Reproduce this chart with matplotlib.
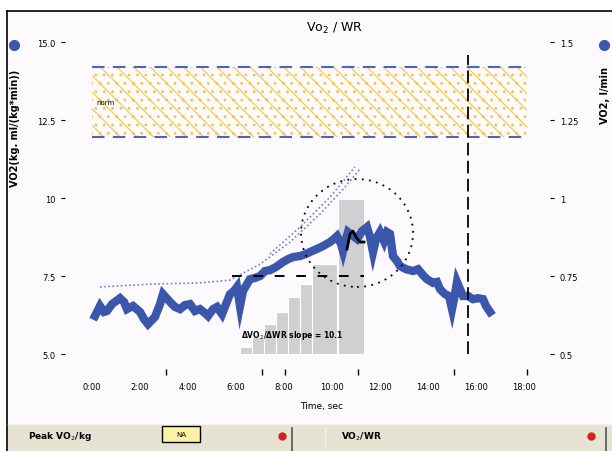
import matplotlib
matplotlib.use("Agg")
import matplotlib.pyplot as plt
from matplotlib.patches import Rectangle, Ellipse
from matplotlib.lines import Line2D

# ────────────────────────────────
# Data
# ────────────────────────────────
# VO2 trace (time in s, VO2 in ml/kg/min)
t_vo2 = [7.5, 20, 30, 37.5, 50, 70, 80, 87.5, 102.5, 120, 130, 140, 157.5, 170, 177.5,
         195, 207.5, 220, 232.5, 245, 257.5, 270, 282.5, 290, 302.5, 312.5, 325, 335,
         345, 355, 362.5, 370, 377.5, 387.5, 395, 407.5, 420, 432.5, 445, 460, 477.5,
         490, 502.5, 520, 535, 550, 562.5, 577.5, 595, 605, 612.5, 622.5, 627.5, 635,
         640, 650, 662.5, 675, 687.5, 695, 702.5, 710, 720, 730, 737.5, 745, 752.5,
         762.5, 770, 785, 802.5, 815, 827.5, 837.5, 852.5, 862.5, 870, 882.5, 892.5,
         900, 907.5, 912.5, 920, 927.5, 940, 952.5, 965, 977.5, 985, 995]
vo2 = [6.22, 6.54, 6.35, 6.38, 6.60, 6.79, 6.67, 6.44, 6.54, 6.35, 6.12, 5.96, 6.19, 6.60,
       6.92, 6.67, 6.51, 6.44, 6.57, 6.60, 6.38, 6.44, 6.31, 6.22, 6.44, 6.51, 6.28, 6.60,
       6.92, 7.02, 7.15, 6.54, 7.02, 7.24, 7.40, 7.44, 7.50, 7.66, 7.69, 7.79, 7.95, 8.04,
       8.11, 8.14, 8.21, 8.30, 8.37, 8.46, 8.59, 8.69, 8.78, 8.53, 8.30, 8.69, 8.91, 8.81,
       8.69, 8.94, 9.07, 8.75, 8.27, 8.69, 8.91, 8.62, 8.91, 8.85, 8.14, 7.98, 7.82, 7.72,
       7.66, 7.72, 7.53, 7.40, 7.28, 7.31, 7.08, 6.92, 6.86, 6.44, 6.92, 7.31, 7.08, 6.86,
       6.86, 6.76, 6.79, 6.76, 6.54, 6.35]

# VO2 vs work-rate fit lines
t_fit_lo = [20, 145, 270, 345, 420, 495, 570, 632.5, 670]
vo2_fit_lo = [7.15, 7.24, 7.28, 7.37, 7.88, 8.59, 9.49, 10.35, 10.93]
t_fit_hi = [445, 520, 595, 657.5]
vo2_fit_hi = [8.21, 9.07, 10.03, 11.0]

# peak segment
t_peak = [637.5, 645, 652.5, 660, 670, 680]
vo2_peak = [8.37, 8.85, 8.94, 8.75, 8.59, 8.59]

# work-rate steps (W)
wr_left = [370, 400, 430, 460, 490, 520, 550, 615]
wr_width = [30, 30, 30, 30, 30, 30, 62, 65]
wr_watts = [15, 35, 60, 85, 115, 140, 180, 310]

# normal range band
norm_t = [0, 1087]
norm_lo, norm_hi = 11.96, 14.2

threshold_vo2 = 7.5
threshold_t = [350, 680]
peak_center = (662.5, 8.88)
end_time = 940
event_times = [185, 425, 482.5, 665, 905, 1087.5]

x_ticks = [0, 120, 240, 360, 480, 600, 720, 840, 960, 1080]
x_labels = ["0:00", "2:00", "4:00", "6:00", "8:00", "10:00", "12:00", "14:00", "16:00", "18:00"]
left_ticks = [5, 7.5, 10, 12.5, 15]
left_labels = ["5.0", "7.5", "10", "12.5", "15.0"]
right_ticks = [0.5, 0.75, 1, 1.25, 1.5]
right_labels = ["0.5", "0.75", "1", "1.25", "1.5"]

BLUE = "#3b57ad"
W, H = 612, 452


def fx(x):
    return x / W


def fy(y):
    return 1 - y / H


# ────────────────────────────────
# Figure frame
# ────────────────────────────────
fig = plt.figure(figsize=(6.12, 4.52), dpi=100)
fig.patch.set_facecolor("white")
fig.add_artist(Rectangle((fx(7), fy(425)), fx(605), 413 / H, transform=fig.transFigure,
                         facecolor="#fcfafc", edgecolor="none", zorder=0))
fig.add_artist(Line2D([fx(7), 1], [fy(12), fy(12)], color="black", lw=1.2))
fig.add_artist(Line2D([fx(7), fx(7)], [0, fy(12)], color="black", lw=1.2))

rect = [fx(65), fy(370), (550 - 65) / W, (370 - 30) / H]
xlim = (-67.5, 1145)

# work-rate bars sit underneath
wax = fig.add_axes(rect)
wax.bar(wr_left, wr_watts, width=wr_width, align="edge", color="#cfd0d2",
        edgecolor="white", linewidth=0.8)
wax.set_xlim(*xlim)
wax.set_ylim(-30, 650)
wax.axis("off")

ax = fig.add_axes(rect)
ax.patch.set_alpha(0)
ax.set_xlim(*xlim)
ax.set_ylim(4.52, 15.42)
for s in ax.spines.values():
    s.set_visible(False)

plt.rcParams["hatch.linewidth"] = 0.8
ax.fill_between(norm_t, norm_lo, norm_hi, facecolor="none", edgecolor="#f6c43e",
                hatch="\\\\..", linewidth=0, zorder=1)
ax.hlines([norm_lo, norm_hi], norm_t[0], norm_t[1], colors="#4a64c0",
          linestyles=(0, (6, 4)), lw=1.5, zorder=2)
ax.text(12, (norm_lo + norm_hi) / 2, "norm", fontsize=5, va="center", zorder=3)

ax.plot(t_fit_lo, vo2_fit_lo, color="#7080cc", lw=1.2, ls=(0, (1, 1.5)), zorder=3)
ax.plot(t_fit_hi, vo2_fit_hi, color="#7080cc", lw=1.2, ls=(0, (1, 1.5)), zorder=3)

ax.plot(t_vo2, vo2, color=BLUE, lw=6, solid_joinstyle="miter", zorder=4)
ax.plot(t_peak, vo2_peak, color="black", lw=2, zorder=5)

ax.hlines(threshold_vo2, threshold_t[0], threshold_t[1], colors="black",
          linestyles=(0, (5, 6)), lw=1.4, zorder=5)
ax.add_patch(Ellipse(peak_center, 280, 3.46, fill=False, edgecolor="black",
                     ls=(0, (1, 3)), lw=1.3, zorder=5))
ax.vlines(end_time, 5.0, 14.6, colors="black", linestyles=(0, (7, 3)), lw=1.3, zorder=5)

ax.text(372, 5.64, "ΔVO$_2$/ΔWR slope = 10.1", fontsize=5.5, fontweight="bold",
        va="center", zorder=6)

ax.set_xticks(x_ticks)
ax.set_xticklabels(x_labels, fontsize=6)
ax.set_xticks(event_times, minor=True)
ax.tick_params(axis="x", which="major", length=0, pad=9)
ax.tick_params(axis="x", which="minor", length=4, width=1, direction="out")
ax.set_yticks(left_ticks)
ax.set_yticklabels(left_labels, fontsize=6)
ax.tick_params(axis="y", length=3, pad=4)

rax = ax.twinx()
rax.set_ylim(0.452, 1.542)
for s in rax.spines.values():
    s.set_visible(False)
rax.set_yticks(right_ticks)
rax.set_yticklabels(right_labels, fontsize=6)
rax.tick_params(axis="y", length=3, pad=4)

# ────────────────────────────────
# Titles and axis names
# ────────────────────────────────
fig.text(fx(335), fy(28), "Vo$_2$ / WR", ha="center", va="center", fontsize=9)
fig.text(fx(322), fy(407), "Time, sec", ha="center", va="center", fontsize=6.5)
fig.text(fx(15), fy(128), "VO2(kg. ml/(kg*min))", rotation=90, ha="center", va="center",
         fontsize=7, fontweight="bold")
fig.text(fx(605), fy(95), "VO2, l/min", rotation=90, ha="center", va="center",
         fontsize=7, fontweight="bold")
fig.add_artist(Line2D([fx(14)], [fy(46)], marker="o", ms=7, color=BLUE))
fig.add_artist(Line2D([fx(604)], [fy(46)], marker="o", ms=7, color=BLUE))

# ────────────────────────────────
# Status strip
# ────────────────────────────────
fig.add_artist(Rectangle((fx(8), 0), fx(604), 27 / H, transform=fig.transFigure,
                         facecolor="#e6e3d2", edgecolor="none"))
fig.add_artist(Line2D([fx(8), 1], [fy(425), fy(425)], color="#f4f2ea", lw=1))
fig.add_artist(Line2D([fx(292), fx(292)], [0, fy(429)], color="#555555", lw=1.2))
fig.add_artist(Line2D([fx(325), fx(325)], [0, fy(429)], color="#f4f2ea", lw=1))
fig.add_artist(Line2D([fx(606), fx(606)], [0, fy(429)], color="#555555", lw=1.2))
fig.add_artist(Rectangle((fx(162), fy(443)), 38 / W, 16 / H, transform=fig.transFigure,
                         facecolor="#fbf3a4", edgecolor="black", lw=1))
fig.text(fx(181), fy(435), "NA", ha="center", va="center", fontsize=5)
fig.text(fx(28), fy(437), "Peak VO$_2$/kg", ha="left", va="center", fontsize=6.5,
         fontweight="bold")
fig.text(fx(341), fy(437), "VO$_2$/WR", ha="left", va="center", fontsize=6.5,
         fontweight="bold")
fig.add_artist(Line2D([fx(282)], [fy(437)], marker="o", ms=5, color="#d42020"))
fig.add_artist(Line2D([fx(591)], [fy(437)], marker="o", ms=5, color="#d42020"))

fig.savefig("out.png", dpi=100)
